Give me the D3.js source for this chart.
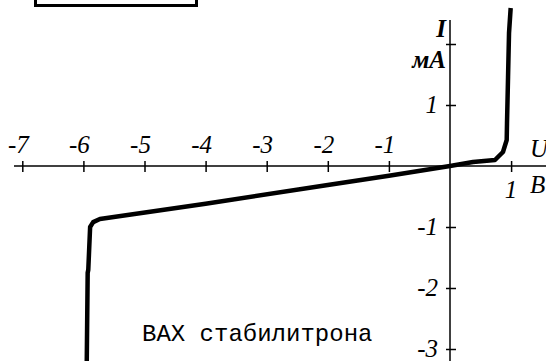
<!DOCTYPE html>
<html>
<head>
<meta charset="utf-8">
<script src="https://cdn.jsdelivr.net/npm/d3@7"></script>
<style>
  body { margin: 0; background: #fff; }
  svg { display: block; }
  .serif { font-family: "Liberation Serif", "DejaVu Serif", serif; font-style: italic; font-size: 25px; }
  .mono { font-family: "Liberation Mono", "DejaVu Sans Mono", monospace; font-size: 24px; }
</style>
</head>
<body>
<svg id="chart"></svg>
<script>
const width = 546
const height = 361

// x ticks (U, В) and y ticks (I, мА)
const xTicks = [-7, -6, -5, -4, -3, -2, -1, 1]
const yTicks = [2, 1, -1, -2, -3]
const yTickLabels = ["", "1", "-1", "-2", "-3"]

// ВАХ стабилитрона: reverse branch then forward branch
const curveU = [-5.945, -5.93, -5.92, -5.89, -5.84, -5.73, -4, -2, -1, 0, 0.376, 0.736, 0.867, 0.928, 0.933, 0.95, 0.966, 0.993]
const curveI = [-3.2, -1.75, -1.7, -1.0, -0.92, -0.87, -0.62, -0.31, -0.16, 0, 0.066, 0.098, 0.23, 0.426, 0.70, 1.46, 2.18, 2.59]

const x = d3.scaleLinear()
            .domain([0, 1])
            .range([450, 511.1])
const y = d3.scaleLinear()
            .domain([0, 1])
            .range([166, 105])

const svg = d3.select("#chart")
              .attr("width", width)
              .attr("height", height)

// box at the top left
svg.append("rect")
   .attr("x", 35.5).attr("y", -10)
   .attr("width", 161).attr("height", 15.5)
   .attr("fill", "none")
   .attr("stroke", "#000")
   .attr("stroke-width", 3)

// x axis
const xAxis = svg.append("g")
                 .attr("transform", `translate(0,${y(0)})`)
                 .call(d3.axisBottom(x).tickValues(xTicks).tickSize(6).tickFormat(""))
xAxis.select(".domain").remove()
xAxis.selectAll(".tick line").attr("y1", -5).attr("stroke-width", 1.5)
xAxis.append("line")
     .attr("x1", 14).attr("x2", width)
     .attr("stroke", "#000").attr("stroke-width", 1.5)

// y axis
const yAxis = svg.append("g")
                 .attr("transform", `translate(${x(0)},0)`)
                 .call(d3.axisRight(y).tickValues(yTicks).tickSize(6).tickFormat(""))
yAxis.select(".domain").remove()
yAxis.selectAll(".tick line").attr("x1", -4).attr("stroke-width", 1.5)
yAxis.append("line")
     .attr("y1", 20).attr("y2", height)
     .attr("stroke", "#000").attr("stroke-width", 1.5)

svg.append("g")
   .selectAll("text")
   .data(xTicks)
   .join("text")
     .attr("class", "serif")
     .attr("x", d => x(d) - (d < 0 ? 4 : 0))
     .attr("y", d => d < 0 ? 153 : 198)
     .attr("text-anchor", "middle")
     .text(d => d)

svg.append("g")
   .selectAll("text")
   .data(yTicks)
   .join("text")
     .attr("class", "serif")
     .attr("x", x(0) - 12)
     .attr("y", d => y(d) + 8)
     .attr("text-anchor", "end")
     .text((d, i) => yTickLabels[i])

// axis names
svg.append("text")
   .attr("class", "serif")
   .attr("x", 446).attr("y", 37)
   .attr("text-anchor", "end")
   .style("font-weight", "bold")
   .text("I")
svg.append("text")
   .attr("class", "serif")
   .attr("x", 446).attr("y", 68)
   .attr("text-anchor", "end")
   .style("font-weight", "bold")
   .text("мА")
svg.append("text")
   .attr("class", "serif")
   .attr("x", 530).attr("y", 157)
   .text("U")
svg.append("text")
   .attr("class", "serif")
   .attr("x", 530).attr("y", 193)
   .text("В")

// curve
const line = d3.line()
               .x(i => x(curveU[i]))
               .y(i => y(curveI[i]))
svg.append("path")
   .attr("d", line(d3.range(curveU.length)))
   .attr("fill", "none")
   .attr("stroke", "#000")
   .attr("stroke-width", 4.5)
   .attr("stroke-linejoin", "round")

svg.append("text")
   .attr("class", "mono")
   .attr("x", 142).attr("y", 341)
   .text("ВАХ стабилитрона")
</script>
</body>
</html>
